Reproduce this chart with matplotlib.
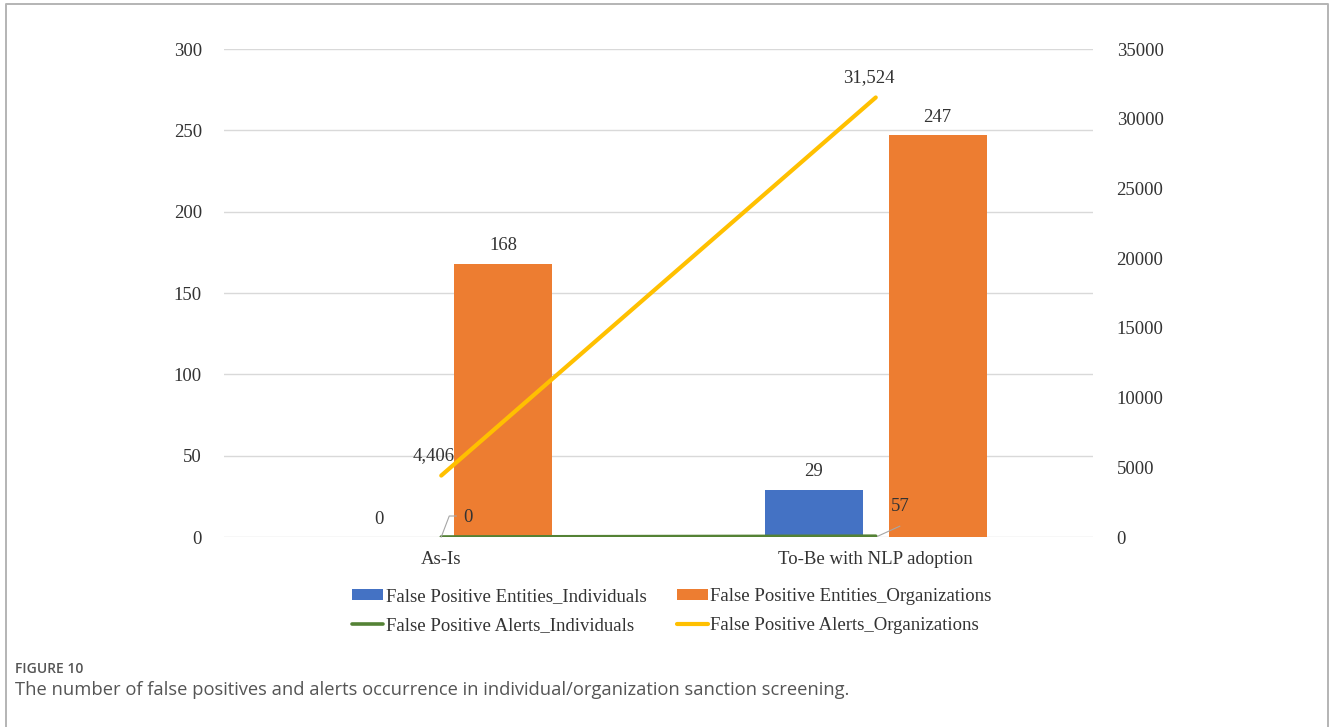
import numpy as np
import matplotlib
matplotlib.use("Agg")
import matplotlib.pyplot as plt
from matplotlib.lines import Line2D
from matplotlib.transforms import IdentityTransform

# --- data -------------------------------------------------------------
categories = ["As-Is", "To-Be with NLP adoption"]
entities_individuals = [0, 29]
entities_organizations = [168, 247]
alerts_individuals = [0, 57]
alerts_organizations = [4406, 31524]

left_ticks = [0, 50, 100, 150, 200, 250, 300]
right_ticks = [0, 5000, 10000, 15000, 20000, 25000, 30000, 35000]

# --- style ------------------------------------------------------------
BLUE = "#4472C4"
ORANGE = "#ED7D31"
GREEN = "#548235"
YELLOW = "#FFC000"
GRID = "#D9D9D9"
TXT = "#333333"
SERIF = "Liberation Serif"
FS = 13.5

W, H, DPI = 1330, 727, 100
fig = plt.figure(figsize=(W / DPI, H / DPI), dpi=DPI)
fig.patch.set_facecolor("white")

# thin frame around the figure panel (open at the bottom)
fig.add_artist(Line2D([6, 6, 1328, 1328], [-5, H - 4, H - 4, -5],
                      transform=IdentityTransform(), color="#B4B4B4", lw=1.4))

ax = fig.add_axes([224 / W, (H - 537) / H, 869 / W, 488 / H])
ax2 = ax.twinx()

x = np.arange(len(categories))
bw = 0.225
off = 0.1425

b1 = ax.bar(x - off, entities_individuals, bw, color=BLUE, zorder=2,
            label="False Positive Entities_Individuals")
b2 = ax.bar(x + off, entities_organizations, bw, color=ORANGE, zorder=2,
            label="False Positive Entities_Organizations")

l1, = ax2.plot(x, alerts_individuals, color=GREEN, lw=2.6,
               solid_capstyle="round", label="False Positive Alerts_Individuals")
l2, = ax2.plot(x, alerts_organizations, color=YELLOW, lw=3.0,
               solid_capstyle="round", label="False Positive Alerts_Organizations")

ax.set_xlim(-0.5, 1.5)
ax.set_ylim(0, 300)
ax2.set_ylim(0, 35000)
ax.set_yticks(left_ticks)
ax2.set_yticks(right_ticks)
ax.set_xticks(x)
ax.set_xticklabels(categories)

ax.grid(axis="y", color=GRID, lw=1.0, zorder=0)
ax.set_axisbelow(True)
for a in (ax, ax2):
    for s in a.spines.values():
        s.set_visible(False)
    a.tick_params(length=0, labelsize=FS, colors=TXT)
    for lab in a.get_xticklabels() + a.get_yticklabels():
        lab.set_fontfamily(SERIF)
ax.tick_params(axis="y", pad=16)
ax2.tick_params(axis="y", pad=17)
ax.tick_params(axis="x", pad=10)
ax2.set_zorder(ax.get_zorder() + 1)
ax2.patch.set_visible(False)

# --- value labels -----------------------------------------------------
def label(axis, xv, yv, text, dx, dy, ha="center"):
    axis.annotate(text, xy=(xv, yv), xytext=(dx, dy), textcoords="offset pixels",
                  ha=ha, va="center", fontsize=FS, family=SERIF, color=TXT)

for xi, v in zip(x, entities_individuals):
    label(ax, xi - off, v, f"{v:,}", 0, 18)
for xi, v in zip(x, entities_organizations):
    label(ax, xi + off, v, f"{v:,}", 0, 18)

# organisation alerts labels
label(ax2, x[0], alerts_organizations[0], f"{alerts_organizations[0]:,}", 13, 20, ha="right")
label(ax2, x[1], alerts_organizations[1], f"{alerts_organizations[1]:,}", -7, 20)

# individual alerts labels with leader lines
def leader(xv, yv, pts):
    px, py = ax2.transData.transform((xv, yv))
    xs = [px + p[0] for p in pts]
    ys = [py + p[1] for p in pts]
    fig.add_artist(Line2D(xs, ys, transform=IdentityTransform(),
                          color="#A6A6A6", lw=0.8, zorder=5))

leader(x[0], alerts_individuals[0], [(0, 0), (8, 21), (15, 21)])
label(ax2, x[0], alerts_individuals[0], f"{alerts_individuals[0]:,}", 22, 20, ha="left")
leader(x[1], alerts_individuals[1], [(2, 0), (24, 10)])
label(ax2, x[1], alerts_individuals[1], f"{alerts_individuals[1]:,}", 15, 30, ha="left")

# --- legend -----------------------------------------------------------
leg = fig.legend([b1, l1, b2, l2],
                 [b1.get_label(), l1.get_label(), b2.get_label(), l2.get_label()],
                 ncol=2, loc="center", bbox_to_anchor=(672 / W, (H - 611) / H),
                 frameon=False, prop={"family": SERIF, "size": FS},
                 handlelength=1.65, handleheight=0.55, handletextpad=0.15,
                 columnspacing=1.6, labelspacing=0.62, labelcolor=TXT)

# --- caption ----------------------------------------------------------
fig.text(15, H - 673, "FIGURE 10", family="Open Sans", weight="semibold",
         fontsize=10, color="#555555", va="baseline", ha="left",
         transform=IdentityTransform())
fig.text(15, H - 695,
         "The number of false positives and alerts occurrence in individual/organization sanction screening.",
         family="Open Sans", fontsize=13.2, color="#555555", va="baseline", ha="left",
         transform=IdentityTransform())

fig.savefig("out.png", dpi=DPI, facecolor="white")
